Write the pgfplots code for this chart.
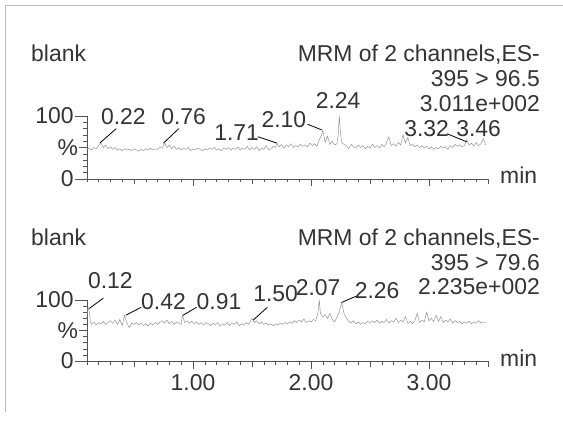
\documentclass[border=0pt]{standalone}
\usepackage{fontspec}
\setmainfont{Liberation Sans}
\usepackage{pgfplots}
\pgfplotsset{compat=1.18}
\definecolor{txt}{HTML}{363238}
\definecolor{trace}{HTML}{8E8E8E}
\definecolor{axc}{HTML}{555555}
\definecolor{frm}{HTML}{BBBBBB}
\newcommand{\bigf}{\fontsize{23}{26}\selectfont}
\tikzset{
  plbl/.style={font=\bigf, text=txt, inner sep=0pt, anchor=center},
  ldr/.style={black, line width=0.8bp},
}
\pgfplotsset{
  chrom/.style={
    scale only axis, width=401.2bp,
    xmin=0.10, xmax=3.50, ymin=0, ymax=100,
    axis x line=bottom, axis y line=left, axis line style={-, axc, line width=0.6bp},
    tick align=outside, major tick length=7.5bp, minor tick length=3.5bp,
    every tick/.style={axc, line width=0.5bp},
    xtick={1,2,3},
    minor xtick={0.1,0.2,0.3,0.4,0.6,0.7,0.8,0.9,1.1,1.2,1.3,1.4,1.6,1.7,1.8,1.9,2.1,2.2,2.3,2.4,2.6,2.7,2.8,2.9,3.1,3.2,3.3,3.4},
    extra x ticks={0.5,1.5,2.5,3.5}, extra x tick labels={},
    extra x tick style={major tick length=5.5bp},
    ytick={50}, yticklabels={\%},
    minor ytick={10,20,30,40,60,70,80,90},
    extra y ticks={0,100}, extra y tick labels={0,100},
    extra y tick style={major tick length=12bp},
    /pgf/number format/assume math mode=true,
    tick label style={font=\bigf, text=txt},
    yticklabel style={inner sep=1bp},
    xticklabel style={yshift=-2bp},
    clip=false,
  },
}
\begin{document}
\begin{tikzpicture}
\useasboundingbox (0,0) rectangle (563bp,421bp);
\fill[white] (0,0) rectangle (563bp,421bp);
\draw[frm, line width=0.8bp] (5bp,9bp) -- (5bp,416bp) -- (563bp,416bp);

% ---------- top panel ----------
\begin{axis}[chrom, at={(86.8bp,242bp)}, anchor=south west, height=63bp, xticklabels={}]
\addplot[trace, line width=0.45bp] coordinates {
(0.10,47)(0.12,49)(0.14,46)(0.16,50)(0.18,48)(0.20,53)(0.22,57)(0.24,50)(0.26,54)(0.28,48)
(0.30,51)(0.32,47)(0.34,50)(0.36,46)(0.38,48)(0.40,45)(0.42,48)(0.44,46)(0.46,47)(0.48,45)
(0.50,48)(0.52,46)(0.54,44)(0.56,47)(0.58,45)(0.60,48)(0.62,46)(0.64,49)(0.66,46)(0.68,48)
(0.70,47)(0.72,51)(0.74,49)(0.76,57)(0.78,50)(0.80,54)(0.82,48)(0.84,52)(0.86,47)(0.88,50)
(0.90,46)(0.92,49)(0.94,47)(0.96,50)(0.98,45)(1.00,48)(1.02,46)(1.04,49)(1.06,47)(1.08,45)
(1.10,48)(1.12,46)(1.14,49)(1.16,47)(1.18,50)(1.20,46)(1.22,48)(1.24,45)(1.26,49)(1.28,47)
(1.30,50)(1.32,46)(1.34,49)(1.36,47)(1.38,51)(1.40,46)(1.42,49)(1.44,47)(1.46,52)(1.48,46)
(1.50,50)(1.52,47)(1.54,51)(1.56,45)(1.58,49)(1.60,47)(1.62,53)(1.64,46)(1.66,48)(1.68,52)
(1.70,50)(1.71,57)(1.73,51)(1.75,55)(1.77,49)(1.79,54)(1.81,51)(1.83,56)(1.85,50)(1.87,53)
(1.89,51)(1.91,55)(1.93,52)(1.95,54)(1.97,51)(1.99,57)(2.01,53)(2.03,56)(2.05,52)(2.07,62)
(2.09,70)(2.10,78)(2.12,58)(2.14,68)(2.16,55)(2.18,60)(2.20,54)(2.22,56)(2.23,70)(2.24,100)
(2.25,72)(2.26,58)(2.28,55)(2.30,53)(2.32,48)(2.34,55)(2.36,51)(2.38,49)(2.40,54)(2.42,50)
(2.44,53)(2.46,48)(2.48,52)(2.50,49)(2.52,55)(2.54,50)(2.56,53)(2.58,49)(2.60,55)(2.62,51)
(2.64,58)(2.66,67)(2.68,53)(2.70,56)(2.72,52)(2.74,58)(2.76,54)(2.78,70)(2.80,57)(2.82,66)
(2.84,53)(2.86,55)(2.88,51)(2.90,54)(2.92,50)(2.94,53)(2.96,49)(2.98,52)(3.00,48)(3.02,51)
(3.04,47)(3.06,50)(3.08,48)(3.10,52)(3.12,49)(3.14,51)(3.16,47)(3.18,53)(3.20,50)(3.22,55)
(3.24,52)(3.26,54)(3.28,51)(3.30,53)(3.32,62)(3.34,54)(3.36,57)(3.38,52)(3.40,58)(3.42,53)
(3.44,56)(3.46,64)(3.48,54)
};
\node[plbl] at (axis cs:0.41,99) {0.22};
\node[plbl] at (axis cs:0.92,99) {0.76};
\node[plbl] at (axis cs:1.37,73) {1.71};
\node[plbl] at (axis cs:1.77,95) {2.10};
\node[plbl] at (axis cs:2.23,124) {2.24};
\node[plbl] at (axis cs:2.98,80) {3.32};
\node[plbl] at (axis cs:3.42,80) {3.46};
\draw[ldr] (axis cs:0.21,57) -- (axis cs:0.35,80);
\draw[ldr] (axis cs:0.75,57) -- (axis cs:0.88,80);
\draw[ldr] (axis cs:1.55,67) -- (axis cs:1.71,57);
\draw[ldr] (axis cs:1.97,87) -- (axis cs:2.09,78);
\draw[ldr] (axis cs:3.15,72) -- (axis cs:3.32,59);
\end{axis}

% ---------- bottom panel ----------
\begin{axis}[chrom, at={(86.8bp,60bp)}, anchor=south west, height=61bp,
  xticklabels={1.00,2.00,3.00}]
\addplot[trace, line width=0.45bp] coordinates {
(0.10,70)(0.11,88)(0.12,82)(0.13,65)(0.14,60)(0.16,64)(0.18,59)(0.20,63)(0.22,61)(0.24,65)
(0.26,60)(0.28,63)(0.30,66)(0.32,62)(0.34,67)(0.36,60)(0.38,68)(0.40,58)(0.42,75)(0.44,62)
(0.46,55)(0.48,62)(0.50,60)(0.52,63)(0.54,59)(0.56,62)(0.58,58)(0.60,61)(0.62,57)(0.64,62)
(0.66,59)(0.68,63)(0.70,60)(0.72,64)(0.74,66)(0.76,62)(0.78,67)(0.80,61)(0.82,65)(0.84,60)
(0.86,64)(0.88,62)(0.90,60)(0.91,75)(0.93,63)(0.95,66)(0.97,62)(0.99,65)(1.01,61)(1.03,64)
(1.05,60)(1.07,63)(1.09,59)(1.11,63)(1.13,61)(1.15,58)(1.17,62)(1.19,59)(1.21,63)(1.23,57)
(1.25,61)(1.27,59)(1.29,63)(1.31,58)(1.33,62)(1.35,60)(1.37,64)(1.39,58)(1.41,61)(1.43,59)
(1.45,63)(1.47,60)(1.50,70)(1.52,63)(1.54,66)(1.56,61)(1.58,64)(1.60,60)(1.62,62)(1.64,59)
(1.66,61)(1.68,58)(1.70,61)(1.72,59)(1.74,62)(1.76,60)(1.78,63)(1.80,61)(1.82,64)(1.84,62)
(1.86,66)(1.88,63)(1.90,67)(1.92,64)(1.94,69)(1.96,63)(1.98,66)(2.00,64)(2.02,68)(2.04,66)
(2.06,80)(2.07,100)(2.08,78)(2.10,72)(2.12,76)(2.14,70)(2.16,78)(2.18,68)(2.20,64)(2.22,72)
(2.24,80)(2.26,96)(2.28,78)(2.30,70)(2.32,65)(2.34,62)(2.36,66)(2.38,61)(2.40,64)(2.42,60)
(2.44,63)(2.46,61)(2.48,65)(2.50,62)(2.52,66)(2.54,63)(2.56,67)(2.58,62)(2.60,65)(2.62,63)
(2.64,68)(2.66,62)(2.68,66)(2.70,64)(2.72,70)(2.74,63)(2.76,67)(2.78,64)(2.80,73)(2.82,62)
(2.84,65)(2.86,61)(2.88,66)(2.90,78)(2.92,63)(2.94,67)(2.96,64)(2.98,80)(3.00,66)(3.02,70)
(3.04,64)(3.06,75)(3.08,65)(3.10,73)(3.12,63)(3.14,67)(3.16,64)(3.18,69)(3.20,62)(3.22,66)
(3.24,63)(3.26,65)(3.28,61)(3.30,64)(3.32,62)(3.34,65)(3.36,61)(3.38,64)(3.40,62)(3.42,66)
(3.44,62)(3.46,64)(3.48,63)
};
\node[plbl] at (axis cs:0.30,131) {0.12};
\node[plbl] at (axis cs:0.75,98) {0.42};
\node[plbl] at (axis cs:1.22,98) {0.91};
\node[plbl] at (axis cs:1.70,110) {1.50};
\node[plbl] at (axis cs:2.06,121) {2.07};
\node[plbl] at (axis cs:2.56,116) {2.26};
\draw[ldr] (axis cs:0.12,86) -- (axis cs:0.24,103);
\draw[ldr] (axis cs:0.43,75) -- (axis cs:0.56,88);
\draw[ldr] (axis cs:0.915,75) -- (axis cs:1.03,88);
\draw[ldr] (axis cs:1.51,67) -- (axis cs:1.63,88);
\draw[ldr] (axis cs:2.26,96) -- (axis cs:2.38,106);
\end{axis}

% ---------- header texts ----------
\begin{scope}[every node/.style={font=\bigf, text=txt, inner sep=0pt}]
\node[anchor=base west] at (31bp,359bp) {blank};
\node[anchor=base east] at (540bp,359bp) {MRM of 2 channels,ES-};
\node[anchor=base east] at (540bp,334bp) {395 > 96.5};
\node[anchor=base east] at (540bp,309bp) {3.011e+002};
\node[anchor=base west] at (500bp,237bp) {min};
\node[anchor=base west] at (31bp,175bp) {blank};
\node[anchor=base east] at (540bp,175bp) {MRM of 2 channels,ES-};
\node[anchor=base east] at (540bp,150bp) {395 > 79.6};
\node[anchor=base east] at (540bp,126bp) {2.235e+002};
\node[anchor=base west] at (500bp,54bp) {min};
\end{scope}
\end{tikzpicture}
\end{document}
